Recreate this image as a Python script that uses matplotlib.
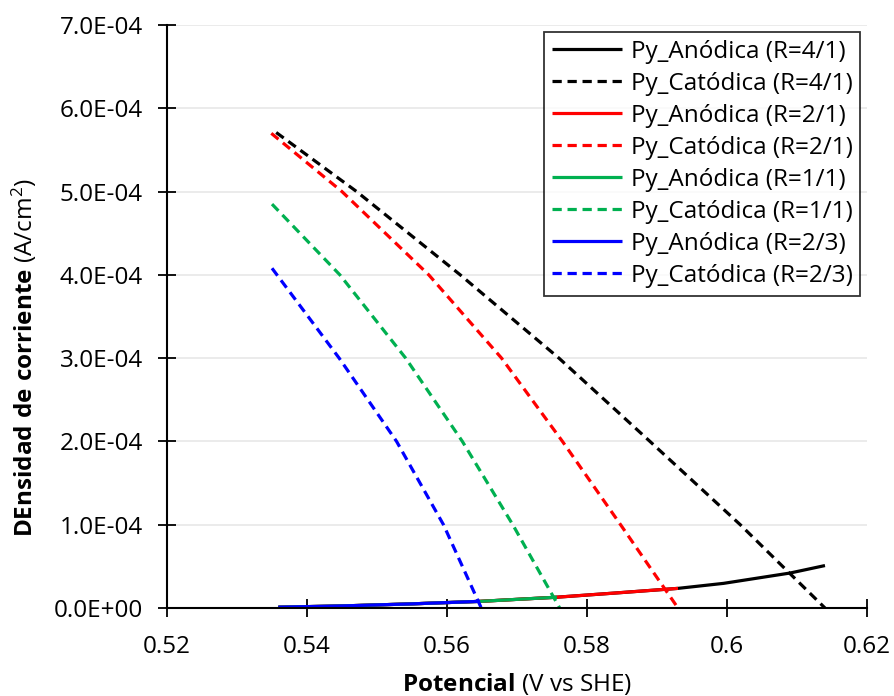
import matplotlib
matplotlib.use("Agg")
import matplotlib.pyplot as plt
from matplotlib.ticker import FuncFormatter

plt.rcParams['font.family'] = ['Open Sans', 'DejaVu Sans']
plt.rcParams['mathtext.fontset'] = 'custom'
plt.rcParams['mathtext.rm'] = 'Open Sans'
plt.rcParams['mathtext.bf'] = 'Open Sans:bold'
plt.rcParams['mathtext.it'] = 'Open Sans:italic'

# Potential (V vs SHE) and current density (A/cm2) per ratio R
e_an_41 = [0.5359, 0.545, 0.555, 0.5647, 0.5757, 0.584, 0.593, 0.5995, 0.609, 0.614]
i_an_41 = [1.0e-6, 2.5e-6, 5.0e-6, 8.0e-6, 1.3e-5, 1.8e-5, 2.36e-5, 2.96e-5, 4.2e-5, 5.1e-5]
e_ca_41 = [0.5356, 0.5471, 0.5619, 0.5760, 0.5890, 0.6019, 0.614]
i_ca_41 = [5.71e-4, 5.0e-4, 4.0e-4, 3.0e-4, 2.0e-4, 1.0e-4, 0.0]

e_an_21 = [0.5359, 0.545, 0.555, 0.5647, 0.5757, 0.584, 0.593]
i_an_21 = [1.0e-6, 2.5e-6, 5.0e-6, 8.0e-6, 1.3e-5, 1.8e-5, 2.36e-5]
e_ca_21 = [0.5349, 0.5450, 0.5574, 0.5678, 0.5765, 0.5848, 0.593]
i_ca_21 = [5.70e-4, 5.0e-4, 4.0e-4, 3.0e-4, 2.0e-4, 1.0e-4, 0.0]

e_an_11 = [0.5359, 0.545, 0.555, 0.5647, 0.5757]
i_an_11 = [1.0e-6, 2.5e-6, 5.0e-6, 8.0e-6, 1.3e-5]
e_ca_11 = [0.535, 0.5447, 0.5541, 0.5622, 0.5694, 0.5761]
i_ca_11 = [4.85e-4, 4.0e-4, 3.0e-4, 2.0e-4, 1.0e-4, 0.0]

e_an_23 = [0.5359, 0.545, 0.555, 0.5647]
i_an_23 = [1.0e-6, 2.5e-6, 5.0e-6, 8.0e-6]
e_ca_23 = [0.535, 0.5446, 0.5528, 0.5595, 0.5649]
i_ca_23 = [4.08e-4, 3.0e-4, 2.0e-4, 1.0e-4, 0.0]

ratios = ["4/1", "2/1", "1/1", "2/3"]
colors = ["#000000", "#FF0000", "#00B050", "#0000FF"]
anodic = [(e_an_41, i_an_41), (e_an_21, i_an_21), (e_an_11, i_an_11), (e_an_23, i_an_23)]
cathodic = [(e_ca_41, i_ca_41), (e_ca_21, i_ca_21), (e_ca_11, i_ca_11), (e_ca_23, i_ca_23)]

x_ticks = [0.52, 0.54, 0.56, 0.58, 0.60, 0.62]
y_ticks = [0.0, 1e-4, 2e-4, 3e-4, 4e-4, 5e-4, 6e-4, 7e-4]

fig = plt.figure(figsize=(8.95, 6.96), dpi=100)
ax = fig.add_axes([0.1866, 0.1264, 0.7821, 0.8376])

lw = 2.3
for r, c, (ea, ia), (ec, ic) in zip(ratios, colors, anodic, cathodic):
    ax.plot(ea, ia, color=c, lw=lw, solid_capstyle='butt',
            solid_joinstyle='round', label=f"Py_Anódica (R={r})")
    ax.plot(ec, ic, color=c, lw=lw, linestyle=(0, (2.9, 1.8)),
            dash_capstyle='butt', dash_joinstyle='round',
            label=f"Py_Catódica (R={r})")

fs = 17.5
ax.set_xlim(0.52, 0.62)
ax.set_ylim(0, 7e-4)
ax.set_xticks(x_ticks)
ax.set_yticks(y_ticks)
ax.xaxis.set_major_formatter(FuncFormatter(lambda v, p: f"{v:g}"))
ax.yaxis.set_major_formatter(FuncFormatter(lambda v, p: f"{v:.1E}"))
ax.tick_params(axis='both', direction='inout', length=13, width=1.3,
               labelsize=fs, colors='#000000')
ax.tick_params(axis='x', pad=13)
ax.tick_params(axis='y', pad=11)

ax.grid(axis='y', color='#E8E8E8', lw=1.2)
ax.set_axisbelow(True)
for s in ['top', 'right']:
    ax.spines[s].set_visible(False)
for s in ['left', 'bottom']:
    ax.spines[s].set_linewidth(1.5)
    ax.spines[s].set_color('#000000')

ax.set_xlabel(r'$\mathbf{Potencial}$ (V vs SHE)', fontsize=fs)
ax.set_ylabel(r'$\mathbf{DEnsidad\ de\ corriente}$ (A/cm$^2$)', fontsize=fs)
ax.xaxis.set_label_coords(0.5, -0.108)
ax.yaxis.set_label_coords(-0.183, 0.43)

leg = ax.legend(loc='upper right', fontsize=fs, handlelength=2.9,
                frameon=True, fancybox=False, borderaxespad=0.28,
                labelspacing=0.33, handletextpad=0.35, borderpad=0.32)
leg.get_frame().set_edgecolor('#000000')
leg.get_frame().set_linewidth(1.3)

fig.savefig("out.png", dpi=100)
